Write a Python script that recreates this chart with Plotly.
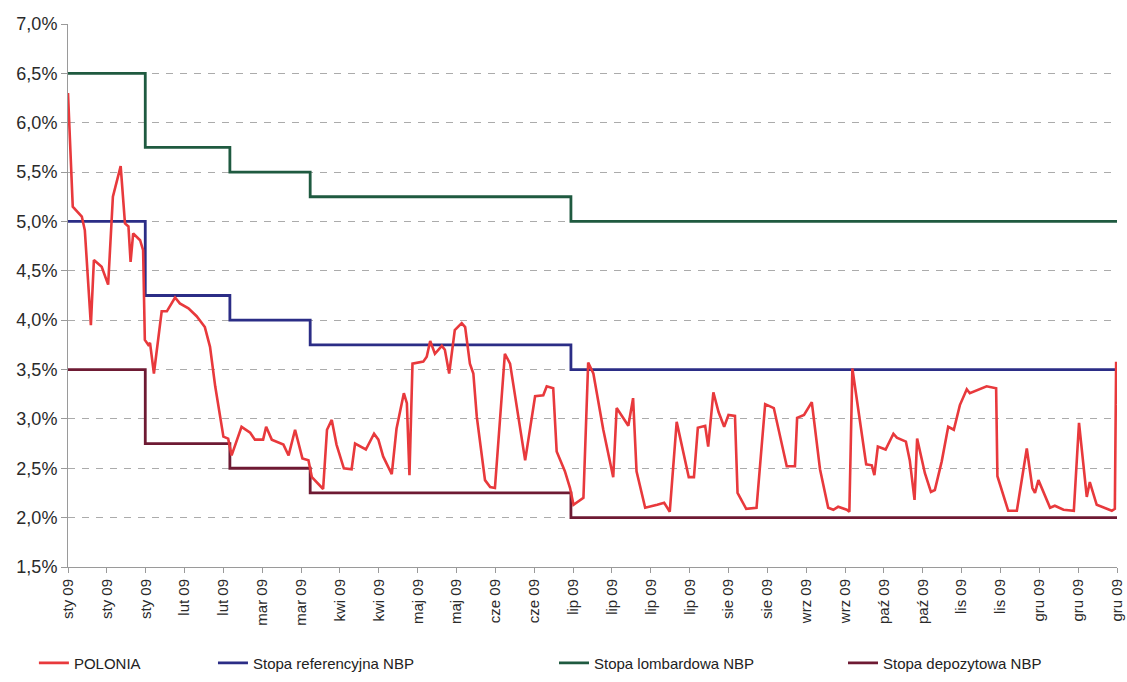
import plotly.graph_objects as go

# x axis: trading-day index through 2009 (0 .. 243)
tick_days = [0, 9, 18, 27, 36, 45, 54, 63, 72, 81, 90, 99, 108, 117,
             126, 135, 144, 153, 162, 171, 180, 189, 198, 207, 216, 225, 234, 243]
tick_labels = ["sty 09", "sty 09", "sty 09", "lut 09", "lut 09", "mar 09", "mar 09",
               "kwi 09", "kwi 09", "maj 09", "maj 09", "cze 09", "cze 09", "lip 09",
               "lip 09", "lip 09", "lip 09", "sie 09", "sie 09", "wrz 09", "wrz 09",
               "paź 09", "paź 09", "lis 09", "lis 09", "gru 09", "gru 09", "gru 09"]

y_ticks = [1.5, 2.0, 2.5, 3.0, 3.5, 4.0, 4.5, 5.0, 5.5, 6.0, 6.5, 7.0]
y_labels = ["1,5%", "2,0%", "2,5%", "3,0%", "3,5%", "4,0%", "4,5%", "5,0%",
            "5,5%", "6,0%", "6,5%", "7,0%"]

polonia_day = [0.0, 1.1, 3.2, 3.9, 5.3, 6.0, 7.8, 9.3, 10.4, 12.2, 13.2, 14.0, 14.5, 15.1,
               16.7, 17.4, 17.8, 18.6, 19.0, 19.9, 21.7, 22.9, 24.8, 25.9, 27.9, 29.8,
               31.7, 32.9, 34.1, 36.0, 37.1, 37.9, 40.2, 42.2, 43.3, 45.2, 45.9, 47.2,
               49.9, 51.1, 52.6, 54.3, 55.7, 56.5, 59.1, 60.0, 61.1, 62.2, 63.9, 65.7,
               66.5, 69.0, 70.9, 71.9, 73.0, 75.0, 76.1, 77.8, 78.5, 79.1, 79.8, 82.3,
               83.1, 83.9, 85.0, 86.6, 87.3, 88.3, 89.6, 91.2, 92.0, 93.1, 93.9, 94.7,
               96.6, 97.8, 98.9, 101.2, 102.4, 105.9, 108.2, 110.1, 110.9, 112.4, 113.2,
               115.1, 116.3, 117.1, 119.4, 120.5, 121.7, 124.0, 126.3, 127.1, 129.8,
               130.9, 131.7, 133.7, 136.5, 138.1, 139.4, 141.0, 143.8, 145.0, 145.9,
               147.6, 148.3, 149.5, 150.7, 152.0, 153.0, 154.5, 155.1, 157.1, 159.5,
               161.5, 163.5, 166.5, 168.4, 168.9, 170.5, 172.3, 174.2, 176.1, 177.3,
               178.4, 180.4, 181.0, 181.7, 183.5, 184.9, 186.2, 186.8, 187.6, 189.4,
               191.2, 192.0, 194.1, 195.0, 196.1, 196.7, 198.5, 199.9, 200.8, 202.4,
               203.9, 205.2, 206.6, 208.2, 208.9, 212.8, 215.0, 215.3, 217.8, 219.8,
               222.1, 223.4, 224.0, 224.8, 227.5, 228.6, 230.6, 233.0, 234.2, 236.0,
               236.7, 238.3, 241.8, 242.5, 242.8, 243.0]
polonia_value = [6.30, 5.15, 5.05, 4.91, 3.95, 4.61, 4.54, 4.36, 5.25, 5.56, 4.98, 4.95, 4.59, 4.88,
                 4.81, 4.71, 3.80, 3.75, 3.77, 3.46, 4.09, 4.09, 4.23, 4.17, 4.12, 4.04,
                 3.93, 3.73, 3.33, 2.82, 2.80, 2.63, 2.92, 2.86, 2.79, 2.79, 2.92, 2.79,
                 2.74, 2.63, 2.89, 2.60, 2.58, 2.41, 2.29, 2.89, 2.99, 2.74, 2.50, 2.49,
                 2.75, 2.69, 2.85, 2.79, 2.62, 2.44, 2.90, 3.26, 3.16, 2.43, 3.56, 3.58,
                 3.63, 3.79, 3.66, 3.74, 3.70, 3.46, 3.90, 3.97, 3.93, 3.56, 3.46, 3.02,
                 2.38, 2.31, 2.30, 3.66, 3.56, 2.58, 3.23, 3.24, 3.33, 3.31, 2.67,
                 2.47, 2.30, 2.13, 2.20, 3.57, 3.46, 2.89, 2.41, 3.11, 2.93,
                 3.21, 2.47, 2.10, 2.13, 2.15, 2.06, 2.97, 2.41, 2.41, 2.91,
                 2.93, 2.72, 3.27, 3.07, 2.92, 3.04, 3.03, 2.25, 2.09, 2.10,
                 3.15, 3.11, 2.52, 2.52, 3.01, 3.04, 3.17, 2.49, 2.10, 2.08,
                 2.11, 2.08, 2.06, 3.51, 2.99, 2.54, 2.53, 2.43, 2.72, 2.69,
                 2.85, 2.81, 2.77, 2.58, 2.18, 2.80, 2.45, 2.26, 2.28, 2.57,
                 2.92, 2.89, 3.14, 3.30, 3.26, 3.33, 3.31, 2.42, 2.07, 2.07,
                 2.70, 2.30, 2.25, 2.38, 2.10, 2.12, 2.08, 2.07, 2.96, 2.21,
                 2.36, 2.13, 2.07, 2.09, 3.58, 3.15]

# NBP policy rates (step changes)
rate_change_day = [0, 17.9, 37.5, 56.1, 116.5, 243]
ref_rate = [5.00, 4.25, 4.00, 3.75, 3.50, 3.50]
lombard_rate = [6.50, 5.75, 5.50, 5.25, 5.00, 5.00]
deposit_rate = [3.50, 2.75, 2.50, 2.25, 2.00, 2.00]

FONT = "Arial, Liberation Sans, sans-serif"

fig = go.Figure()
fig.add_trace(go.Scatter(x=rate_change_day, y=deposit_rate, mode="lines", line_shape="hv",
                         name="Stopa depozytowa NBP", line=dict(color="#6E1A33", width=2.8),
                         legend="legend4"))
fig.add_trace(go.Scatter(x=rate_change_day, y=lombard_rate, mode="lines", line_shape="hv",
                         name="Stopa lombardowa NBP", line=dict(color="#1F5A40", width=2.8),
                         legend="legend3"))
fig.add_trace(go.Scatter(x=rate_change_day, y=ref_rate, mode="lines", line_shape="hv",
                         name="Stopa referencyjna NBP", line=dict(color="#2B2D86", width=2.8),
                         legend="legend2"))
fig.add_trace(go.Scatter(x=polonia_day, y=polonia_value, mode="lines",
                         name="POLONIA", line=dict(color="#E8393C", width=2.6),
                         legend="legend"))

leg_common = dict(orientation="h", yanchor="middle", xanchor="left",
                  bgcolor="rgba(0,0,0,0)", font=dict(family=FONT, size=15, color="#222"),
                  itemwidth=30)
fig.update_layout(
    width=1127, height=682,
    showlegend=True,
    margin=dict(l=68, r=10, t=24, b=115, autoexpand=False),
    paper_bgcolor="white", plot_bgcolor="white",
    font=dict(family=FONT, size=15, color="#333"),
    legend=dict(x=-0.0325, y=-0.177, **leg_common),
    legend2=dict(x=0.1382, y=-0.177, **leg_common),
    legend3=dict(x=0.4633, y=-0.177, **leg_common),
    legend4=dict(x=0.7388, y=-0.177, **leg_common),
    xaxis=dict(range=[0, 243], tickmode="array", tickvals=tick_days, ticktext=tick_labels,
               tickangle=-90, showgrid=False, zeroline=False, automargin=False,
               showline=True, linecolor="#9a9a9a", linewidth=1,
               ticks="outside", ticklen=5, tickcolor="#9a9a9a",
               tickfont=dict(family=FONT, size=15, color="#2a2a2a")),
    yaxis=dict(range=[1.5, 7.0], tickmode="array", tickvals=y_ticks, ticktext=y_labels,
               showgrid=True, gridcolor="#ababab", griddash="7px,7px", gridwidth=1,
               zeroline=False, showline=True, linecolor="#9a9a9a", linewidth=1,
               automargin=False,
               ticks="outside", ticklen=6, tickcolor="#9a9a9a",
               tickfont=dict(family=FONT, size=18, color="#2a2a2a")),
)

fig.write_html("out.html",
               config={"displayModeBar": False},
               post_script="document.body.style.margin='0';"
                           "document.documentElement.style.overflow='hidden';"
                           "document.body.style.overflow='hidden';")
